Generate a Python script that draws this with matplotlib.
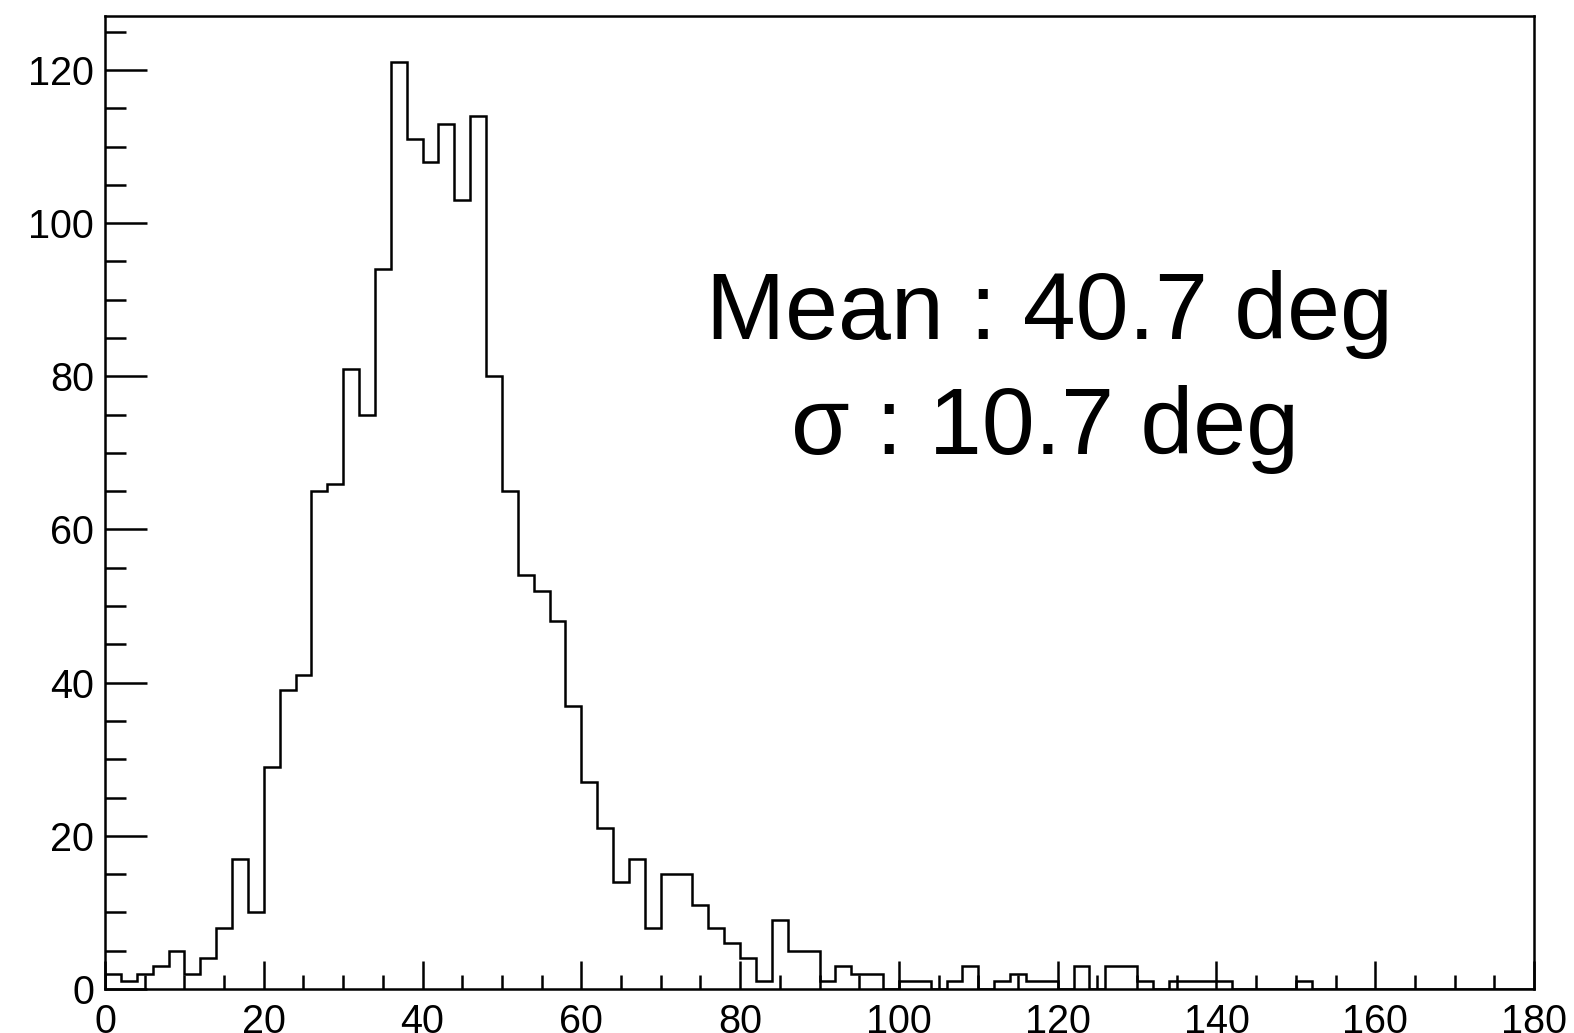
import numpy as np
import matplotlib
matplotlib.use('Agg')
import matplotlib.pyplot as plt
from matplotlib.ticker import MultipleLocator

plt.rcParams['font.family'] = ['Liberation Sans', 'DejaVu Sans']

# ----------
# Histogram data (2 deg bins from 0 to 180)
#
bin_edges = np.arange(0, 182, 2)
counts = [2, 1, 2, 3, 5, 2, 4, 8, 17, 10,
          29, 39, 41, 65, 66, 81, 75, 94, 121, 111,
          108, 113, 103, 114, 80, 65, 54, 52, 48, 37,
          27, 21, 14, 17, 8, 15, 15, 11, 8, 6,
          4, 1, 9, 5, 5, 1, 3, 2, 2, 0,
          1, 1, 0, 1, 3, 0, 1, 2, 1, 1,
          0, 3, 0, 3, 3, 1, 0, 1, 1, 1,
          1, 0, 0, 0, 0, 1, 0, 0, 0, 0,
          0, 0, 0, 0, 0, 0, 0, 0, 0, 0]
mean_txt = "Mean : 40.7 deg"
sigma_txt = "σ : 10.7 deg"

fig = plt.figure(figsize=(15.74, 10.33), dpi=100, facecolor="white")
ax = fig.add_axes([105 / 1574, 1 - 989 / 1033, 1429 / 1574, 973 / 1033])

ax.stairs(counts, bin_edges, color='black', linewidth=1.8, baseline=0)

ax.set_xlim(0, 180)
ax.set_ylim(0, max(counts) * 1.05)

ax.xaxis.set_major_locator(MultipleLocator(20))
ax.xaxis.set_minor_locator(MultipleLocator(5))
ax.yaxis.set_major_locator(MultipleLocator(20))
ax.yaxis.set_minor_locator(MultipleLocator(5))

ax.tick_params(axis='x', which='major', direction='in', length=20, width=1.8,
               labelsize=28.5, pad=10)
ax.tick_params(axis='x', which='minor', direction='in', length=10, width=1.8)
ax.tick_params(axis='y', which='major', direction='in', length=30, width=1.8,
               labelsize=28.5, pad=8)
ax.tick_params(axis='y', which='minor', direction='in', length=15, width=1.8)

for s in ax.spines.values():
    s.set_linewidth(1.8)

# Stats box text
ax.text(0.661, 0.668, mean_txt, transform=ax.transAxes, fontsize=68.5,
        ha='center', va='baseline')
ax.text(0.658, 0.550, sigma_txt, transform=ax.transAxes, fontsize=68.5,
        ha='center', va='baseline')

fig.savefig("out.png", dpi=100, facecolor="white")
